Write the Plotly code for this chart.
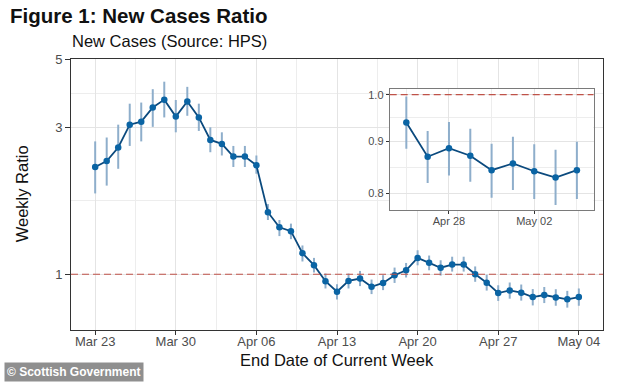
import numpy as np
import pandas as pd
import plotly.graph_objects as go

# ---------------- data ----------------
dates = pd.date_range("2020-03-23", "2020-05-04", freq="D")
ratio = [2.23, 2.33, 2.58, 3.06, 3.13, 3.48, 3.69, 3.25, 3.64, 3.23,
         2.73, 2.65, 2.41, 2.41, 2.26, 1.59, 1.42, 1.38, 1.17, 1.07,
         0.949, 0.877, 0.951, 0.968, 0.910, 0.937, 0.993, 1.03, 1.13, 1.09,
         1.05, 1.075, 1.075, 1.00, 0.939, 0.869, 0.886, 0.871, 0.843, 0.856,
         0.841, 0.829, 0.843]
lower = [1.83, 1.94, 2.20, 2.61, 2.70, 3.01, 3.23, 2.89, 3.27, 2.92,
         2.49, 2.43, 2.23, 2.23, 2.12, 1.50, 1.33, 1.30, 1.10, 1.013,
         0.899, 0.828, 0.899, 0.915, 0.862, 0.888, 0.937, 0.976, 1.069, 1.03,
         0.99, 1.02, 1.02, 0.945, 0.885, 0.819, 0.833, 0.821, 0.792, 0.806,
         0.790, 0.779, 0.790]
upper = [2.70, 2.78, 3.06, 3.58, 3.61, 3.99, 4.22, 3.68, 4.06, 3.58,
         3.00, 2.89, 2.61, 2.61, 2.43, 1.69, 1.50, 1.46, 1.24, 1.13,
         1.005, 0.928, 1.005, 1.025, 0.961, 0.993, 1.051, 1.088, 1.196, 1.15,
         1.11, 1.14, 1.14, 1.06, 0.996, 0.921, 0.940, 0.926, 0.895, 0.909,
         0.894, 0.883, 0.899]

week_ticks = pd.date_range("2020-03-23", "2020-05-04", freq="7D")
week_labels = ["Mar 23", "Mar 30", "Apr 06", "Apr 13", "Apr 20", "Apr 27", "May 04"]
main_yticks = [1, 3, 5]
main_ylabels = ["1", "3", "5"]

inset_start = pd.Timestamp("2020-04-26")
inset_ticks = pd.to_datetime(["2020-04-28", "2020-05-02"])
inset_labels = ["Apr 28", "May 02"]
inset_yticks = [0.8, 0.9, 1.0]
inset_ylabels = ["0.8", "0.9", "1.0"]

reference_level = 1.0

# ---------------- styling ----------------
W, H = 634, 382
L, R, T, B = 71, 30.5, 58.5, 52
PW, PH = W - L - R, H - T - B
FONT = "Liberation Sans, Arial, sans-serif"
LINE_C = "#0b4a7e"
PT_C = "#0a64a4"
ERR_C = "#8eaecb"
DASH_C = "#bf5248"
GRID_C = "#e4e4e4"
MINOR_C = "#ededed"


def px_x(x):
    return (x - L) / PW


def px_y(y):
    return 1 - (y - T) / PH


ratio_a = np.array(ratio)
err_plus = np.array(upper) - ratio_a
err_minus = ratio_a - np.array(lower)

inset_mask = dates >= inset_start
d_in = dates[inset_mask]

fig = go.Figure()

# main error bars
fig.add_trace(go.Scatter(
    x=dates, y=ratio, mode="markers", marker=dict(size=1, opacity=0),
    error_y=dict(type="data", array=err_plus, arrayminus=err_minus, symmetric=False,
                 color=ERR_C, thickness=2, width=0),
    showlegend=False, hoverinfo="skip", xaxis="x", yaxis="y"))
# main line + points
fig.add_trace(go.Scatter(
    x=dates, y=ratio, mode="lines+markers",
    line=dict(color=LINE_C, width=1.8),
    marker=dict(color=PT_C, size=6.5),
    showlegend=False, xaxis="x", yaxis="y"))

# inset error bars
fig.add_trace(go.Scatter(
    x=d_in, y=ratio_a[inset_mask], mode="markers", marker=dict(size=1, opacity=0),
    error_y=dict(type="data", array=err_plus[inset_mask], arrayminus=err_minus[inset_mask],
                 symmetric=False, color=ERR_C, thickness=2, width=0),
    showlegend=False, hoverinfo="skip", xaxis="x2", yaxis="y2"))
fig.add_trace(go.Scatter(
    x=d_in, y=ratio_a[inset_mask], mode="lines+markers",
    line=dict(color=LINE_C, width=1.8),
    marker=dict(color=PT_C, size=6.5),
    showlegend=False, xaxis="x2", yaxis="y2"))

day = pd.Timedelta(days=1)
main_xrange = [dates[0] - 2.1 * day, dates[-1] + 2.1 * day]
main_minor_x = [t + 3.5 * day for t in week_ticks[:-1]]
main_minor_y = [float(np.sqrt(a * b)) for a, b in zip(main_yticks[:-1], main_yticks[1:])]

inset_xrange = [d_in[0] - 0.78 * day, d_in[-1] + 0.78 * day]
inset_minor_x = [inset_ticks[0] - 2 * day, inset_ticks[0] + 2 * day, inset_ticks[1] + 2 * day]
inset_minor_y = [float(np.sqrt(a * b)) for a, b in zip(inset_yticks[:-1], inset_yticks[1:])]

tickfont = dict(family=FONT, size=13, color="#4d4d4d")
insetfont = dict(family=FONT, size=11, color="#4d4d4d")

fig.update_layout(
    width=W, height=H, autosize=False,
    margin=dict(l=L, r=R, t=T, b=B, pad=0),
    paper_bgcolor="white", plot_bgcolor="white",
    font=dict(family=FONT, color="black"),
    xaxis=dict(
        type="date", range=main_xrange, domain=[0, 1],
        tickvals=list(week_ticks), ticktext=week_labels,
        ticks="outside", ticklen=4, tickwidth=1, tickcolor="#333333",
        tickfont=tickfont, ticklabelstandoff=-5,
        showline=True, linecolor="#333333", linewidth=1, mirror=True,
        showgrid=True, gridcolor=GRID_C, gridwidth=1, zeroline=False,
        minor=dict(tickvals=main_minor_x, showgrid=True, gridcolor=MINOR_C,
                   gridwidth=0.7, ticks=""),
    ),
    yaxis=dict(
        type="log", range=[np.log10(0.659), np.log10(5)], domain=[0, 1],
        tickvals=main_yticks, ticktext=main_ylabels,
        ticks="outside", ticklen=5, tickwidth=1, tickcolor="#333333",
        tickfont=tickfont,
        showline=True, linecolor="#333333", linewidth=1, mirror=True,
        showgrid=True, gridcolor=GRID_C, gridwidth=1, zeroline=False,
        minor=dict(tickvals=main_minor_y, showgrid=True, gridcolor=MINOR_C,
                   gridwidth=0.7, ticks=""),
    ),
    xaxis2=dict(
        type="date", range=inset_xrange, domain=[px_x(390), px_x(594)],
        anchor="y2",
        tickvals=list(inset_ticks), ticktext=inset_labels,
        ticks="outside", ticklen=3, tickwidth=1, tickcolor="#333333",
        tickfont=insetfont, ticklabelstandoff=-2,
        showline=True, linecolor="#7a7a7a", linewidth=1, mirror=True,
        showgrid=True, gridcolor=GRID_C, gridwidth=1, zeroline=False,
        minor=dict(tickvals=inset_minor_x, showgrid=True, gridcolor=MINOR_C,
                   gridwidth=0.7, ticks=""),
    ),
    yaxis2=dict(
        type="log", range=[np.log10(0.770), np.log10(1.013)],
        domain=[px_y(210), px_y(88.5)], anchor="x2",
        tickvals=inset_yticks, ticktext=inset_ylabels,
        ticks="outside", ticklen=3, tickwidth=1, tickcolor="#333333",
        tickfont=insetfont,
        showline=True, linecolor="#7a7a7a", linewidth=1, mirror=True,
        showgrid=True, gridcolor=GRID_C, gridwidth=1, zeroline=False,
        minor=dict(tickvals=inset_minor_y, showgrid=True, gridcolor=MINOR_C,
                   gridwidth=0.7, ticks=""),
    ),
    shapes=[
        dict(type="line", xref="x domain", x0=0, x1=1, yref="y",
             y0=reference_level, y1=reference_level, layer="above",
             line=dict(color=DASH_C, width=1.2, dash="7px,4px")),
        dict(type="line", xref="x2 domain", x0=0, x1=1, yref="y2",
             y0=reference_level, y1=reference_level, layer="above",
             line=dict(color=DASH_C, width=1.2, dash="7px,4px")),
    ],
    annotations=[
        dict(text="<b>Figure 1: New Cases Ratio</b>", xref="paper", yref="paper",
             x=px_x(8), y=px_y(14.5), xanchor="left", yanchor="middle",
             showarrow=False, font=dict(family=FONT, size=20.5, color="#111111")),
        dict(text="New Cases (Source: HPS)", xref="paper", yref="paper",
             x=px_x(70), y=px_y(40), xanchor="left", yanchor="middle",
             showarrow=False, font=dict(family=FONT, size=16.5, color="#111111")),
        dict(text="Weekly Ratio", xref="paper", yref="paper",
             x=px_x(22), y=px_y(194), xanchor="center", yanchor="middle",
             textangle=-90, showarrow=False,
             font=dict(family=FONT, size=16.5, color="#111111")),
        dict(text="End Date of Current Week", xref="paper", yref="paper",
             x=px_x(337), y=px_y(360), xanchor="center", yanchor="middle",
             showarrow=False, font=dict(family=FONT, size=16.5, color="#111111")),
        dict(text="<b>© Scottish Government</b>", xref="paper", yref="paper",
             x=px_x(4), y=px_y(382.5), xanchor="left", yanchor="bottom",
             showarrow=False, bgcolor="#8f8f8f", borderpad=2,
             font=dict(family=FONT, size=12, color="white")),
    ],
)

fig.write_html(
    "out.html",
    config={"displayModeBar": False},
    post_script="document.body.style.margin='0';document.body.style.padding='0';",
)
